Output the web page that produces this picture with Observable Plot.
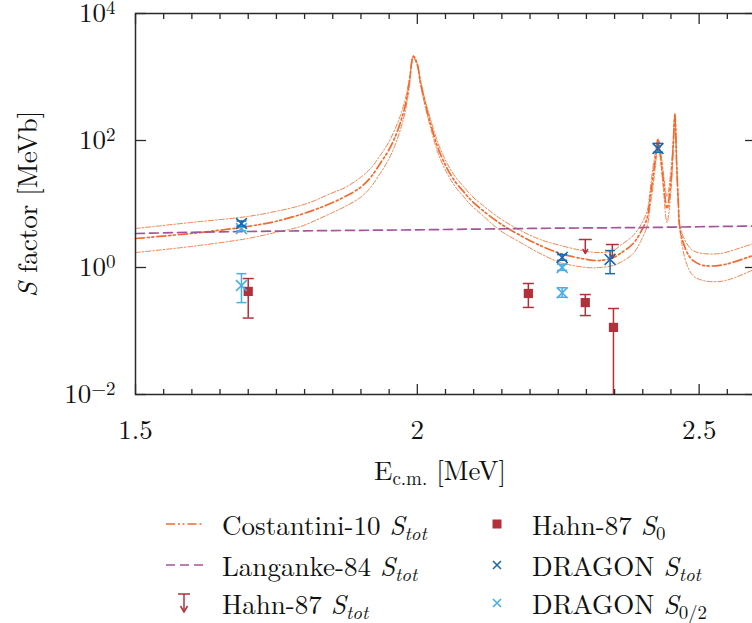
<!DOCTYPE html>
<html><head><meta charset="utf-8">
<script src="https://cdn.jsdelivr.net/npm/d3@7"></script>
<script src="https://cdn.jsdelivr.net/npm/@observablehq/plot@0.6"></script>
<style>
body{margin:0;background:#fff;}
#wrap{position:relative;width:752px;height:623px;overflow:hidden;font-family:'Latin Modern Roman','Liberation Serif',serif;color:#111;}
#legend{position:absolute;left:0;top:500px;width:752px;height:123px;}
.li{position:absolute;font-size:27px;white-space:nowrap;line-height:1;transform:translateY(-50%);}
.li i{font-style:italic;}
.li sub{font-size:70%;vertical-align:-0.28em;line-height:0;}
.sw{position:absolute;overflow:visible;}
svg text{font-family:'Latin Modern Roman','Liberation Serif',serif;}
</style></head><body>
<div id="wrap"><div id="chart"></div><div id="legend"></div></div>
<script>
// ---- data ----
const costE     = [1.500,1.598,1.699,1.748,1.793,1.819,1.846,1.872,1.899,1.917,1.934,1.949,1.961,1.970,1.979,1.986,1.993,2.000,2.005,2.014,2.023,2.037,2.053,2.067,2.082,2.094,2.112,2.147,2.183,2.218,2.254,2.301,2.324,2.348,2.360,2.383,2.397,2.408,2.413,2.418,2.423,2.427,2.432,2.436,2.443,2.450,2.454,2.457,2.460,2.463,2.466,2.477,2.489,2.507,2.537,2.564,2.600];
const costUpper = [4.11,5.11,6.36,7.62,9.47,11.4,14.6,18.2,26.1,36.2,58.0,93.0,155,248,459,947,2180,1632,947,426,222,89.7,43.4,27.1,18.9,14.1,10.2,5.91,3.82,2.76,2.22,1.79,1.72,1.85,2.22,3.19,4.75,7.90,16.3,37.6,69.6,108,64.6,33.7,13.1,33.7,100,266,48.4,11.4,4.42,2.48,1.85,1.66,1.66,1.92,2.45];
const costMid   = [2.86,3.43,4.42,5.30,6.83,8.19,10.2,13.1,18.2,26.1,43.4,69.6,116,192,369,849,2100,1574,881,383,192,74.8,36.2,22.6,15.7,11.8,8.49,4.93,3.19,2.22,1.66,1.34,1.29,1.44,1.66,2.39,3.69,6.13,12.2,26.1,55.7,104,53.9,26.1,8.49,23.4,83.5,257,46.0,10.8,4.11,1.85,1.29,1.08,1.08,1.24,1.60];
const costLower = [1.72,2.14,2.86,3.56,4.42,5.50,7.09,9.14,12.7,18.2,30.2,50.2,86.5,149,297,735,2028,1518,819,343,166,62.4,30.2,18.9,13.1,9.82,7.09,3.82,2.48,1.66,1.20,1.00,1.00,1.08,1.20,1.66,2.66,4.58,9.14,18.2,45.0,100,43.4,19.6,5.11,16.3,69.6,248,44.0,10.2,3.82,1.20,0.748,0.624,0.602,0.696,0.96];

const langE = [1.5,1.6,1.7,1.8,1.9,2.0,2.1,2.2,2.3,2.4,2.5,2.6];
const langS = [3.43,3.58,3.69,3.78,3.85,3.92,4.02,4.12,4.20,4.26,4.38,4.50];

const hahnS0E  = [1.700,2.197,2.298,2.348];
const hahnS0   = [0.42,0.39,0.28,0.114];
const hahnS0Lo = [0.16,0.235,0.175,0.01];
const hahnS0Hi = [0.67,0.56,0.375,0.226];

const hahnTotE   = [2.298,2.346];
const hahnTotLim = [2.76,2.30];
const hahnTotTip = [1.66,1.39];

const dragTotE  = [1.688,2.257,2.342,2.427];
const dragTot   = [4.93,1.44,1.34,74.8];
const dragTotLo = [4.5,1.30,0.80,65];
const dragTotHi = [5.4,1.60,1.85,90];

const dragHalfE  = [1.688,1.688,2.257,2.257];
const dragHalf   = [4.1,0.52,1.00,0.40];
const dragHalfLo = [3.8,0.28,0.90,0.34];
const dragHalfHi = [4.4,0.80,1.12,0.48];

const xMajor = [1.5,2,2.5];
const xMinor = [1.55,1.6,1.65,1.7,1.75,1.8,1.85,1.9,1.95,2.05,2.1,2.15,2.2,2.25,2.3,2.35,2.4,2.45,2.55];
const yMajor = [0.01,1,100,10000];

// ---- colours ----
const cOrange = "#f26b2e", cPurple = "#a4549a", cRed = "#b3303a", cBlue = "#1a68b2", cLight = "#45afe6", cAxis = "#2a2a2a";
const serif = "'Latin Modern Roman','Liberation Serif',serif";

// ---- tables ----
const cost = costE.map((E,i)=>({E, up: costUpper[i], mid: costMid[i], lo: costLower[i]}));
const lang = langE.map((E,i)=>({E, S: langS[i]}));
const hS0 = hahnS0E.map((E,i)=>({E, S: hahnS0[i], lo: hahnS0Lo[i], hi: hahnS0Hi[i]}));
const hTot = hahnTotE.map((E,i)=>({E, S: hahnTotLim[i], tip: hahnTotTip[i]}));
const dTot = dragTotE.map((E,i)=>({E, S: dragTot[i], lo: dragTotLo[i], hi: dragTotHi[i]}));
const dHalf = dragHalfE.map((E,i)=>({E, S: dragHalf[i], lo: dragHalfLo[i], hi: dragHalfHi[i]}));

const cap = {draw(ctx, size){const r = Math.sqrt(size/Math.PI); ctx.moveTo(-r,0); ctx.lineTo(r,0);}};
const crv = "catmull-rom";

const emptyFmt = () => "";
const plot = Plot.plot({
  width: 752, height: 500,
  marginLeft: 135, marginRight: -3, marginTop: 13, marginBottom: 106,
  style: {fontFamily: serif, fontSize: "27px", color: "#111", background: "#fff", overflow: "visible"},
  x: {domain: [1.5, 2.6]},
  y: {type: "log", domain: [0.01, 10000]},
  marks: [
    Plot.line(cost, {x: "E", y: "up", stroke: cOrange, strokeWidth: 1, strokeDasharray: "5,2,1.5,2", strokeOpacity: 0.85, curve: crv}),
    Plot.line(cost, {x: "E", y: "lo", stroke: cOrange, strokeWidth: 1, strokeDasharray: "5,2,1.5,2", strokeOpacity: 0.85, curve: crv}),
    Plot.line(cost, {x: "E", y: "mid", stroke: cOrange, strokeWidth: 1.7, strokeDasharray: "9,3,2,2.5,2,3", curve: crv}),
    Plot.line(lang, {x: "E", y: "S", stroke: cPurple, strokeWidth: 1.7, strokeDasharray: "9,5", curve: "monotone-x"}),
    Plot.ruleX(hS0, {x: "E", y1: "lo", y2: "hi", stroke: cRed, strokeWidth: 1.5}),
    Plot.dot(hS0, {x: "E", y: "hi", symbol: cap, r: 5.5, stroke: cRed, strokeWidth: 1.5}),
    Plot.dot(hS0.filter(d => d.lo > 0.01), {x: "E", y: "lo", symbol: cap, r: 5.5, stroke: cRed, strokeWidth: 1.5}),
    Plot.dot(hS0, {x: "E", y: "S", symbol: "square", r: 5.2, fill: cRed}),
    Plot.arrow(hTot, {x1: "E", x2: "E", y1: "S", y2: "tip", stroke: cRed, strokeWidth: 1.5, headLength: 7}),
    Plot.dot(hTot, {x: "E", y: "S", symbol: cap, r: 6.5, stroke: cRed, strokeWidth: 1.5}),
    Plot.ruleX(dHalf, {x: "E", y1: "lo", y2: "hi", stroke: cLight, strokeWidth: 1.5}),
    Plot.dot(dHalf, {x: "E", y: "lo", symbol: cap, r: 5, stroke: cLight, strokeWidth: 1.5}),
    Plot.dot(dHalf, {x: "E", y: "hi", symbol: cap, r: 5, stroke: cLight, strokeWidth: 1.5}),
    Plot.dot(dHalf, {x: "E", y: "S", symbol: "times", r: 5, stroke: cLight, strokeWidth: 1.6}),
    Plot.ruleX(dTot, {x: "E", y1: "lo", y2: "hi", stroke: cBlue, strokeWidth: 1.5}),
    Plot.dot(dTot, {x: "E", y: "lo", symbol: cap, r: 5, stroke: cBlue, strokeWidth: 1.5}),
    Plot.dot(dTot, {x: "E", y: "hi", symbol: cap, r: 5, stroke: cBlue, strokeWidth: 1.5}),
    Plot.dot(dTot, {x: "E", y: "S", symbol: "times", r: 5, stroke: cBlue, strokeWidth: 1.6}),
    Plot.frame({stroke: cAxis, strokeWidth: 1.5}),
    Plot.axisX(xMajor, {anchor: "bottom", tickSize: 10, dy: -10, tickFormat: emptyFmt, label: null, stroke: cAxis, strokeWidth: 1.3}),
    Plot.axisX(xMinor, {anchor: "bottom", tickSize: 5, dy: -5, tickFormat: emptyFmt, label: null, stroke: cAxis, strokeWidth: 1.3}),
    Plot.axisX(xMajor, {anchor: "top", tickSize: 10, dy: 10, tickFormat: emptyFmt, label: null, stroke: cAxis, strokeWidth: 1.3}),
    Plot.axisX(xMinor, {anchor: "top", tickSize: 5, dy: 5, tickFormat: emptyFmt, label: null, stroke: cAxis, strokeWidth: 1.3}),
    Plot.axisY(yMajor, {anchor: "left", tickSize: 11, dx: 11, tickFormat: emptyFmt, label: null, stroke: cAxis, strokeWidth: 1.3}),
    Plot.axisY(yMajor, {anchor: "right", tickSize: 11, dx: -11, tickFormat: emptyFmt, label: null, stroke: cAxis, strokeWidth: 1.3}),
    Plot.axisX(xMajor, {anchor: "bottom", tickSize: 0, tickPadding: 25, tickFormat: d => String(d), label: null, fill: "#111"}),
    Plot.axisY(yMajor, {anchor: "left", tickSize: 0, tickPadding: 20, tickFormat: d => "10^" + Math.round(Math.log10(d)), label: null, fill: "#111"})
  ]
});
document.getElementById("chart").appendChild(plot);
const svg = d3.select(plot);
svg.selectAll('g[aria-label="y-axis tick label"] text').each(function(){
  const t = this.textContent;
  if (t.indexOf("^") < 0) return;
  const e = t.split("^")[1];
  this.textContent = "10";
  d3.select(this).append("tspan").attr("dy", "-0.45em").attr("font-size", "19px").text(e.replace("-", "\u2212"));
});
const yl = svg.append("text").attr("transform", "translate(37,204) rotate(-90)").attr("text-anchor", "middle")
  .attr("font-size", "27px").attr("fill", "#111");
yl.append("tspan").attr("font-style", "italic").text("S");
yl.append("tspan").text(" factor [MeVb]");
const xl = svg.append("text").attr("x", 440).attr("y", 480).attr("text-anchor", "middle").attr("font-size", "27px").attr("fill", "#111");
xl.append("tspan").text("E");
xl.append("tspan").attr("font-size", "19px").attr("dy", "5").text("c.m.");
xl.append("tspan").attr("dy", "-5").text(" [MeV]");

// ---- legend ----
const leg = document.getElementById("legend");
const rows = [24, 65, 103];
function sw(x, y, w, h, inner){
  const s = document.createElementNS("http://www.w3.org/2000/svg", "svg");
  s.setAttribute("class", "sw"); s.setAttribute("width", w); s.setAttribute("height", h);
  s.style.left = x + "px"; s.style.top = (y - h/2) + "px";
  s.innerHTML = inner; leg.appendChild(s);
}
function txt(x, y, html){
  const d = document.createElement("div"); d.className = "li"; d.style.left = x + "px"; d.style.top = y + "px"; d.innerHTML = html; leg.appendChild(d);
}
const Stot = '<i>S</i><sub><i>tot</i></sub>';
sw(166, rows[0], 38, 10, `<line x1="0" y1="5" x2="38" y2="5" stroke="${cOrange}" stroke-width="1.7" stroke-dasharray="9,3,2,2.5,2,3"/>`);
txt(222, rows[0], "Costantini-10 " + Stot);
sw(166, rows[1], 38, 10, `<line x1="0" y1="5" x2="38" y2="5" stroke="${cPurple}" stroke-width="1.7" stroke-dasharray="9,5"/>`);
txt(222, rows[1], "Langanke-84 " + Stot);
sw(176, rows[2], 16, 22, `<line x1="2" y1="2" x2="14" y2="2" stroke="${cRed}" stroke-width="1.5"/><line x1="8" y1="2" x2="8" y2="19" stroke="${cRed}" stroke-width="1.5"/><path d="M4.5,14 L8,20 L11.5,14" fill="none" stroke="${cRed}" stroke-width="1.5"/>`);
txt(222, rows[2], "Hahn-87 " + Stot);
sw(489, rows[0], 16, 16, `<rect x="3.5" y="3.5" width="9" height="9" fill="${cRed}"/>`);
txt(532, rows[0], 'Hahn-87 <i>S</i><sub>0</sub>');
sw(489, rows[1], 16, 16, `<path d="M4,4 L12,12 M12,4 L4,12" stroke="${cBlue}" stroke-width="1.6"/>`);
txt(532, rows[1], 'DRAGON ' + Stot);
sw(489, rows[2], 16, 16, `<path d="M4,4 L12,12 M12,4 L4,12" stroke="${cLight}" stroke-width="1.6"/>`);
txt(532, rows[2], 'DRAGON <i>S</i><sub>0/2</sub>');
</script>
</body></html>
